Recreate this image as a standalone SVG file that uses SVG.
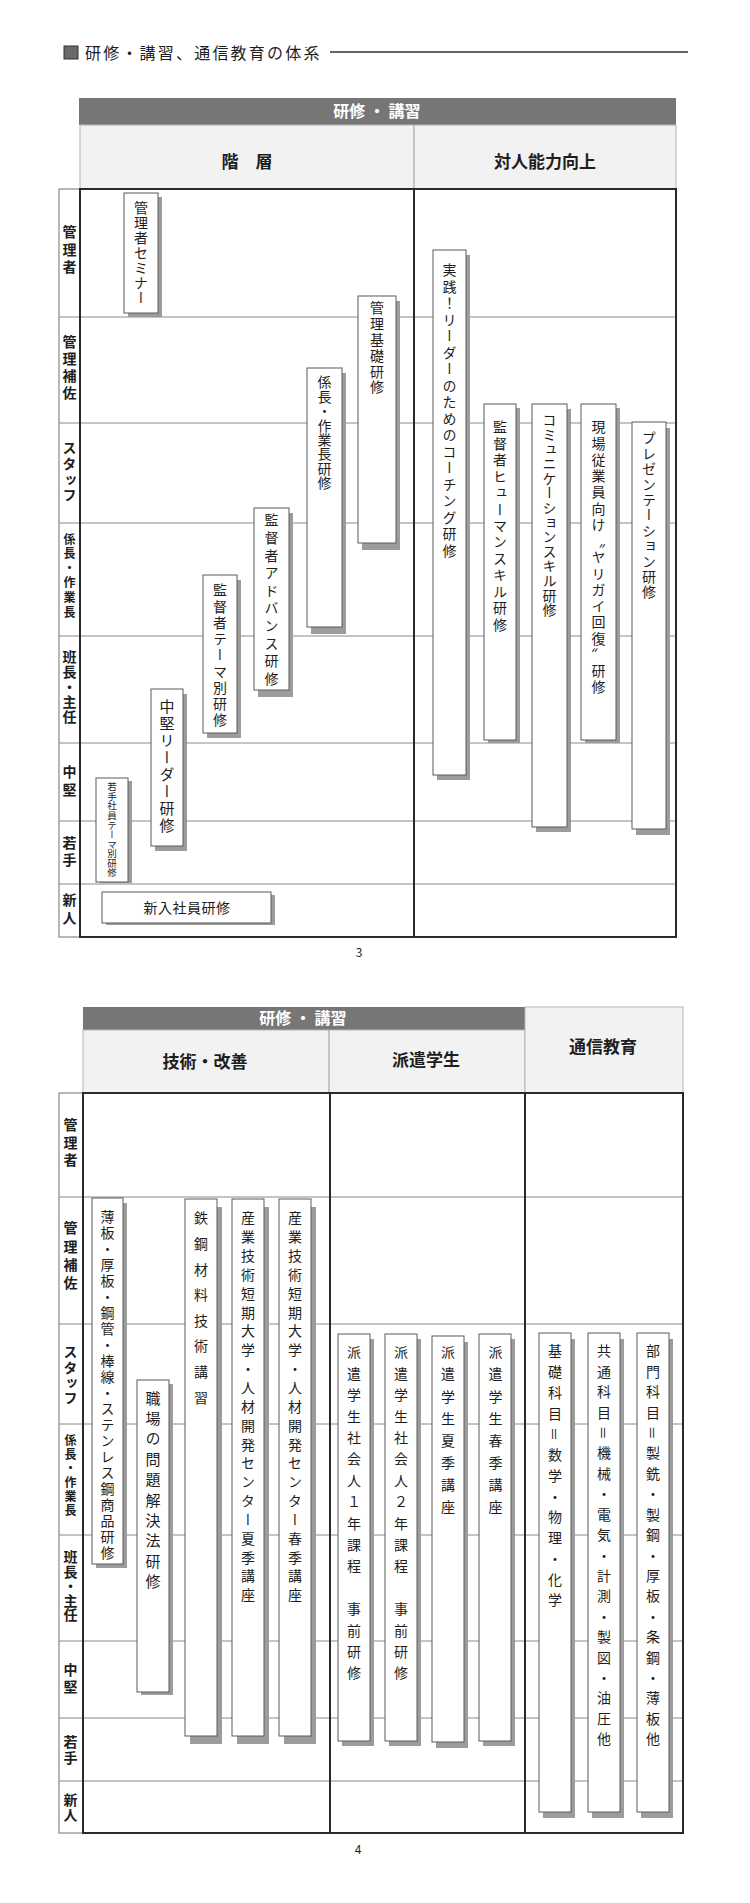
<svg xmlns="http://www.w3.org/2000/svg" width="750" height="1903" viewBox="0 0 750 1903">
<style>
text{font-family:"Noto Sans CJK JP","Noto Sans CJK SC",sans-serif;fill:#1e1e1e}
.v{writing-mode:vertical-rl;font-size:14px}
.lab{writing-mode:vertical-rl;font-size:14px;font-weight:bold}
.lab12{writing-mode:vertical-rl;font-size:12px;font-weight:bold}
.box{fill:#fff;stroke:#5a5a5a;stroke-width:1}
.sh{fill:#9c9c9c}
.row{stroke:#8a8a8a;stroke-width:1;fill:none}
.frame{fill:none;stroke:#2a2a2a;stroke-width:2}
.thick{stroke:#2a2a2a;stroke-width:2}
.bar{fill:#767676}
.lh{fill:#f2f2f2;stroke:#b5b5b5;stroke-width:1}
.hd{font-size:17px;font-weight:bold;text-anchor:middle}
.bt{font-size:16px;font-weight:bold;fill:#fff;text-anchor:middle}
.lc{fill:#fff;stroke:#707070;stroke-width:1}
</style>

<g id="title">
<rect x="64" y="46" width="14" height="13" fill="#6a6a6a" stroke="#333" stroke-width="1"/>
<text x="85" y="59" font-size="16" letter-spacing="2.2">研修・講習、通信教育の体系</text>
<line x1="330" y1="52" x2="688" y2="52" stroke="#333" stroke-width="1.3"/>
</g>

<!-- ===== Page 1 ===== -->
<g id="page1-header">
<rect class="bar" x="79" y="98" width="597" height="27"/>
<text class="bt" x="377" y="117">研修 ・ 講習</text>
<rect class="lh" x="80" y="125" width="596" height="64"/>
<line x1="414" y1="125" x2="414" y2="189" stroke="#999" stroke-width="1"/>
<text class="hd" x="247" y="168">階　層</text>
<text class="hd" x="545" y="168">対人能力向上</text>
</g>

<g id="page1-grid">
<rect class="lc" x="59" y="189" width="21" height="748"/>
<path class="row" d="M59 317H676M59 423H676M59 523H676M59 636H676M59 743H676M59 821H676M59 884H676"/>
</g>

<g id="page1-rowlabels">
<text class="lab" x="69.5" y="225" letter-spacing="3.5">管理者</text>
<text class="lab" x="69.5" y="335" letter-spacing="3">管理補佐</text>
<text class="lab" x="69.5" y="441" letter-spacing="1.7">スタッフ</text>
<text class="lab12" x="69.5" y="533" letter-spacing="2.6">係長・作業長</text>
<text class="lab" x="69.5" y="650" letter-spacing="1">班長・主任</text>
<text class="lab" x="69.5" y="765" letter-spacing="4">中堅</text>
<text class="lab" x="69.5" y="836" letter-spacing="3">若手</text>
<text class="lab" x="69.5" y="893" letter-spacing="4">新人</text>
</g>

<g id="n-kanrisha-seminar">
<rect class="sh" x="128" y="197" width="34" height="120"/>
<rect class="box" x="124" y="193" width="34" height="120"/>
<text class="v" x="141" y="201" letter-spacing="1">管理者セミナー</text>
</g>
<g id="n-kanri-kiso">
<rect class="sh" x="362" y="301" width="38" height="249"/>
<rect class="box" x="358" y="296" width="38" height="247"/>
<text class="v" x="377" y="301" letter-spacing="1.8">管理基礎研修</text>
</g>
<g id="n-kakaricho">
<rect class="sh" x="311" y="373" width="35" height="261"/>
<rect class="box" x="307" y="368" width="35" height="259"/>
<text class="v" x="324.5" y="375" letter-spacing="0.4">係長・作業長研修</text>
</g>
<g id="n-kantoku-advance">
<rect class="sh" x="258" y="513" width="35" height="184"/>
<rect class="box" x="254" y="508" width="35" height="182"/>
<text class="v" x="271.5" y="513" letter-spacing="3.6">監督者アドバンス研修</text>
</g>
<g id="n-kantoku-theme">
<rect class="sh" x="207" y="580" width="34" height="158"/>
<rect class="box" x="203" y="575" width="34" height="158"/>
<text class="v" x="220" y="583" letter-spacing="2.25">監督者テーマ別研修</text>
</g>
<g id="n-chuken-leader">
<rect class="sh" x="155" y="694" width="32" height="157"/>
<rect class="box" x="151" y="689" width="32" height="157"/>
<text class="v" x="167" y="698.5" style="font-size:15px" letter-spacing="2">中堅リーダー研修</text>
</g>
<g id="n-wakate-theme">
<rect class="sh" x="100" y="781" width="32" height="102"/>
<rect class="box" x="96" y="778" width="32" height="104"/>
<text class="v" x="112" y="782" style="font-size:9.5px" letter-spacing="0.05">若手社員テーマ別研修</text>
</g>
<g id="n-shinnyu">
<rect class="sh" x="106" y="895" width="169" height="30"/>
<rect class="box" x="102" y="892" width="169" height="31"/>
<text x="187" y="913" font-size="14" text-anchor="middle" letter-spacing="0.5">新入社員研修</text>
</g>

<g id="n-coaching">
<rect class="sh" x="437" y="255" width="33" height="525"/>
<rect class="box" x="433" y="250" width="33" height="525"/>
<text class="v" x="449.5" y="263" letter-spacing="2.5">実践！リーダーのためのコーチング研修</text>
</g>
<g id="n-human-skill">
<rect class="sh" x="488" y="408" width="32" height="335"/>
<rect class="box" x="484" y="404" width="32" height="336"/>
<text class="v" x="500" y="420" letter-spacing="2.45">監督者ヒューマンスキル研修</text>
</g>
<g id="n-communication">
<rect class="sh" x="536" y="409" width="35" height="423"/>
<rect class="box" x="532" y="404" width="35" height="423"/>
<text class="v" x="549.5" y="413" letter-spacing="0.6">コミュニケーションスキル研修</text>
</g>
<g id="n-yarigai">
<rect class="sh" x="585" y="408" width="35" height="335"/>
<rect class="box" x="581" y="404" width="35" height="336"/>
<text class="v" x="598.5" y="420" letter-spacing="2.25">現場従業員向け〝ヤリガイ回復〟研修</text>
</g>
<g id="n-presentation">
<rect class="sh" x="636" y="428" width="34" height="407"/>
<rect class="box" x="632" y="422" width="34" height="407"/>
<text class="v" x="649" y="431" letter-spacing="1.4">プレゼンテーション研修</text>
</g>

<g id="page1-frame">
<rect class="frame" x="80" y="189" width="596" height="748"/>
<line class="thick" x1="414" y1="189" x2="414" y2="937"/>
<text x="359" y="957" font-size="12" text-anchor="middle">3</text>
</g>

<!-- ===== Page 2 ===== -->
<g id="page2-header">
<rect class="bar" x="83" y="1007" width="442" height="23"/>
<text class="bt" x="303" y="1024">研修 ・ 講習</text>
<rect class="lh" x="83" y="1030" width="442" height="63"/>
<rect class="lh" x="525" y="1007" width="158" height="86"/>
<line x1="329" y1="1030" x2="329" y2="1093" stroke="#999" stroke-width="1"/>
<text class="hd" x="205" y="1068">技術・改善</text>
<text class="hd" x="426" y="1066">派遣学生</text>
<text class="hd" x="603" y="1053">通信教育</text>
</g>

<g id="page2-grid">
<rect class="lc" x="59" y="1093" width="24" height="740"/>
<path class="row" d="M59 1197H683M59 1324H683M59 1424H683M59 1535H683M59 1641H683M59 1718H683M59 1781H683"/>
</g>

<g id="page2-rowlabels">
<text class="lab" x="70.5" y="1118" letter-spacing="3.5">管理者</text>
<text class="lab" x="70.5" y="1221" letter-spacing="4.3">管理補佐</text>
<text class="lab" x="70.5" y="1345" letter-spacing="1.3">スタッフ</text>
<text class="lab12" x="70.5" y="1434" letter-spacing="2">係長・作業長</text>
<text class="lab" x="70.5" y="1550" letter-spacing="0.5">班長・主任</text>
<text class="lab" x="70.5" y="1663" letter-spacing="3">中堅</text>
<text class="lab" x="70.5" y="1735" letter-spacing="2">若手</text>
<text class="lab" x="70.5" y="1793" letter-spacing="1">新人</text>
</g>

<g id="n-usuita">
<rect class="sh" x="96" y="1203" width="31" height="365"/>
<rect class="box" x="92" y="1198" width="31" height="366"/>
<text class="v" x="107.5" y="1210" letter-spacing="2">薄板・厚板・鋼管・棒線・ステンレス鋼商品研修</text>
</g>
<g id="n-shokuba">
<rect class="sh" x="141" y="1384" width="32" height="311"/>
<rect class="box" x="137" y="1380" width="32" height="312"/>
<text class="v" x="153" y="1390.5" style="font-size:15px" letter-spacing="5.4">職場の問題解決法研修</text>
</g>
<g id="n-tekko">
<rect class="sh" x="190" y="1207" width="32" height="537"/>
<rect class="box" x="185" y="1199" width="32" height="537"/>
<text class="v" x="201" y="1211" letter-spacing="11.6">鉄鋼材料技術講習</text>
</g>
<g id="n-sangyo-natsu">
<rect class="sh" x="237" y="1207" width="32" height="537"/>
<rect class="box" x="232" y="1199" width="32" height="537"/>
<text class="v" x="248" y="1211" letter-spacing="4.85">産業技術短期大学・人材開発センター夏季講座</text>
</g>
<g id="n-sangyo-haru">
<rect class="sh" x="284" y="1207" width="32" height="537"/>
<rect class="box" x="279" y="1199" width="32" height="537"/>
<text class="v" x="295" y="1211" letter-spacing="4.85">産業技術短期大学・人材開発センター春季講座</text>
</g>

<g id="n-haken-1nen">
<rect class="sh" x="342" y="1339" width="32" height="407"/>
<rect class="box" x="338" y="1334" width="32" height="407"/>
<text class="v" x="354" y="1345" letter-spacing="7.4">派遣学生社会人１年課程　事前研修</text>
</g>
<g id="n-haken-2nen">
<rect class="sh" x="389" y="1339" width="32" height="407"/>
<rect class="box" x="385" y="1334" width="32" height="407"/>
<text class="v" x="401" y="1345" letter-spacing="7.4">派遣学生社会人２年課程　事前研修</text>
</g>
<g id="n-haken-natsu">
<rect class="sh" x="436" y="1342" width="32" height="406"/>
<rect class="box" x="432" y="1336" width="32" height="406"/>
<text class="v" x="448" y="1345" letter-spacing="8.1">派遣学生夏季講座</text>
</g>
<g id="n-haken-haru">
<rect class="sh" x="483" y="1339" width="32" height="407"/>
<rect class="box" x="479" y="1334" width="32" height="407"/>
<text class="v" x="495.5" y="1345" letter-spacing="8.1">派遣学生春季講座</text>
</g>

<g id="n-kiso-kamoku">
<rect class="sh" x="543" y="1339" width="32" height="479"/>
<rect class="box" x="539" y="1333" width="32" height="479"/>
<text class="v" x="555" y="1344" letter-spacing="6.75">基礎科目＝数学・物理・化学</text>
</g>
<g id="n-kyotsu-kamoku">
<rect class="sh" x="592" y="1339" width="32" height="479"/>
<rect class="box" x="588" y="1333" width="32" height="479"/>
<text class="v" x="604" y="1344" letter-spacing="6.42">共通科目＝機械・電気・計測・製図・油圧他</text>
</g>
<g id="n-bumon-kamoku">
<rect class="sh" x="641" y="1339" width="32" height="479"/>
<rect class="box" x="637" y="1333" width="32" height="479"/>
<text class="v" x="653" y="1344" letter-spacing="6.42">部門科目＝製銑・製鋼・厚板・条鋼・薄板他</text>
</g>

<g id="page2-frame">
<rect class="frame" x="83" y="1093" width="600" height="740"/>
<line class="thick" x1="330" y1="1093" x2="330" y2="1833"/>
<line class="thick" x1="525" y1="1093" x2="525" y2="1833"/>
<text x="358" y="1854" font-size="12" text-anchor="middle">4</text>
</g>

<g id="connectors"/>
</svg>
